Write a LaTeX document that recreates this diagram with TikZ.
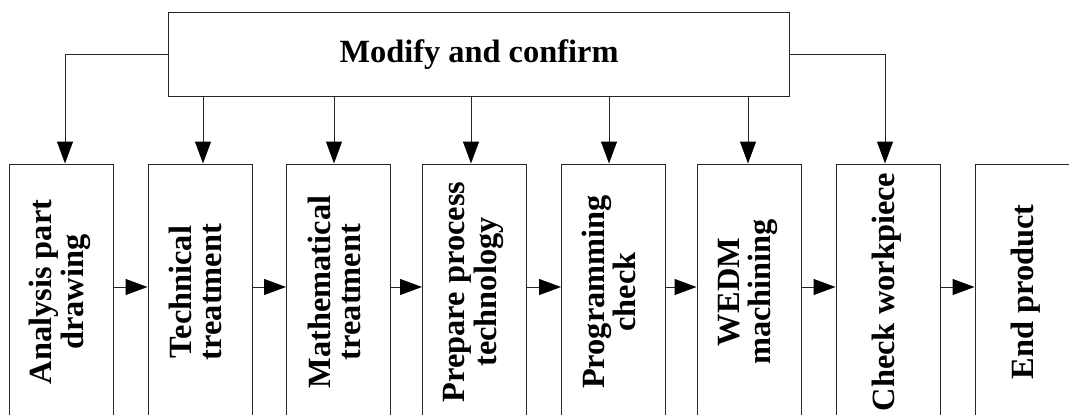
\documentclass[tikz,border=0pt]{standalone}
\usepackage{fontspec}
\setmainfont{Liberation Serif}
\usetikzlibrary{arrows.meta}
\tikzset{
  >={Triangle[length=16.5pt,width=12pt,color=black]},
  font=\fontsize{24.3}{22.5}\selectfont\bfseries,
  stage/.style ={draw=black!85, line width=0.75pt, minimum width=78pt, minimum height=192pt, inner sep=0pt},
  ctrl/.style  ={draw=black!85, line width=0.75pt, minimum width=465.5pt, minimum height=62.5pt, inner sep=0pt},
  arr/.style   ={->, draw=black!85, line width=0.75pt},
}
\newcommand{\vlbl}[1]{\rotatebox{90}{\begin{tabular}{@{}c@{}}#1\end{tabular}}}

\begin{document}
\begin{tikzpicture}[x=0.75pt, y=-0.75pt]
  \useasboundingbox (0,0) rectangle (1069,414);
  \clip (0,0) rectangle (1069,414);

  \node[ctrl] (mc) at (479,54.5) {Modify and confirm};

  \node[stage] (s1) at (61,292)    {\vlbl{Analysis part\\drawing}};
  \node[stage] (s2) at (200,292)   {\vlbl{Technical\\treatment}};
  \node[stage] (s3) at (338.5,292) {\vlbl{Mathematical\\treatment}};
  \node[stage] (s4) at (474.5,292) {\vlbl{Prepare process\\technology}};
  \node[stage] (s5) at (613.5,292) {\vlbl{Programming\\check}};
  \node[stage] (s6) at (749,292)   {\vlbl{WEDM\\machining}};
  \node[stage] (s7) at (888,292)   {\vlbl{Check workpiece}};
  \node[stage] (s8) at (1027,292)  {\vlbl{End product}};

  % feedback from the top box
  \draw[arr] (mc.west) -| (65,0 |- s1.north);
  \draw[arr] (mc.east) -| (885,0 |- s7.north);
  \foreach \i/\x in {2/203,3/334,4/471,5/609,6/748}
    \draw[arr] (\x,0 |- mc.south) -- (\x,0 |- s\i.north);

  % main flow
  \coordinate (row) at (0,287);
  \foreach \i [count=\j from 2] in {1,...,7}
    \draw[arr] (s\i.east |- row) -- (s\j.west |- row);
\end{tikzpicture}
\end{document}
